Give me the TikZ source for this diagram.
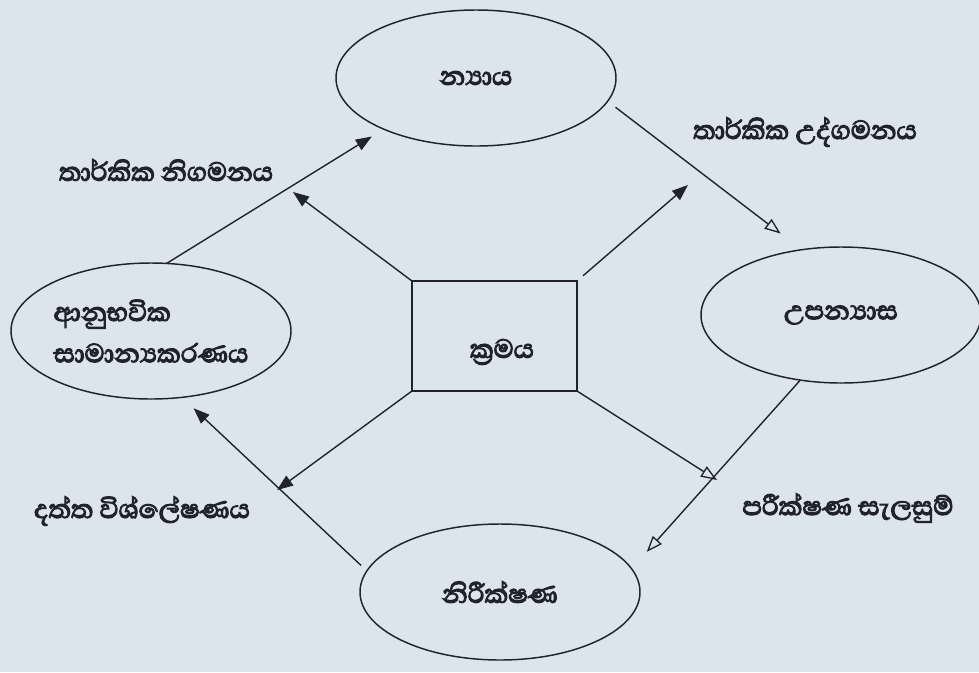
\documentclass[tikz,border=0pt]{standalone}
\usepackage{fontspec}
\newfontfamily\sinhalafont[Script=Sinhala,FakeBold=3.5]{Abhaya Libre}
\usetikzlibrary{shapes.geometric,arrows.meta}
\definecolor{bg}{RGB}{220,229,238}
\definecolor{ink}{RGB}{32,36,42}
\tikzset{
  stage/.style={ellipse,draw=ink,line width=1.1pt,minimum width=210pt,minimum height=102pt,inner sep=0pt,outer sep=0pt,font=\sinhalafont\fontsize{25}{31}\selectfont,text=ink},
  methodbox/.style={rectangle,draw=ink,line width=1.1pt,minimum width=123.75pt,minimum height=82.5pt,inner sep=0pt,outer sep=0pt},
  lbl/.style={font=\sinhalafont\fontsize{25}{31}\selectfont,text=ink,inner sep=0pt},
  conn/.style={draw=ink,line width=1.05pt},
  fillarrow/.style={conn,-{Triangle[length=12pt,width=9pt]}},
  openarrow/.style={conn,-{Triangle[open,length=12pt,width=9pt,line width=1pt]}}
}
\begin{document}
\begin{tikzpicture}[x=0.75pt,y=-0.75pt]
\fill[bg] (0,0) rectangle (979,672);
\useasboundingbox (0,0) rectangle (979,672);

\node[stage] (T) at (476,78) {න්^^^^200dයාය};
\node[stage] (R) at (841,315) {උපන්^^^^200dයාස};
\node[stage] (B) at (500,592) {නිරීක්ෂණ};
\node[stage,align=left] (L) at (151,331) {ආනුභවික\\සාමාන්^^^^200dයකරණය};
\node[methodbox] (C) at (494.5,336) {};
\node[lbl] (Ct) at (502,352) {ක්^^^^200dරමය};

\node[lbl] (l1) at (166,170) {තාර්කික නිගමනය};
\node[lbl] (l2) at (805,132) {තාර්කික උද්ගමනය};
\node[lbl] (l3) at (848,508) {පරීක්ෂණ සැලසුම්};
\node[lbl] (l4) at (142,511) {දත්ත විශ්ලේෂණය};

\coordinate (ul) at (293,192);
\coordinate (ur) at (688,185);
\coordinate (lr) at (717,480);
\coordinate (ll) at (277,490);

\draw[fillarrow,shorten >=10.5pt] (L.77) -- (T.209);
\draw[openarrow,shorten <=7.5pt,shorten >=20pt] (T.-10) -- (R.121.5);
\draw[openarrow,shorten >=17pt] (R.238.7) -- (B.10.4);
\draw[fillarrow,shorten <=6pt,shorten >=12pt] (B.171) -- (L.295);

\draw[fillarrow] (C.north west) -- (ul);
\draw[fillarrow,shorten <=6pt] (C.north east) -- (ur);
\draw[openarrow] (C.south east) -- (lr);
\draw[fillarrow] (C.south west) -- (ll);
\end{tikzpicture}
\end{document}
